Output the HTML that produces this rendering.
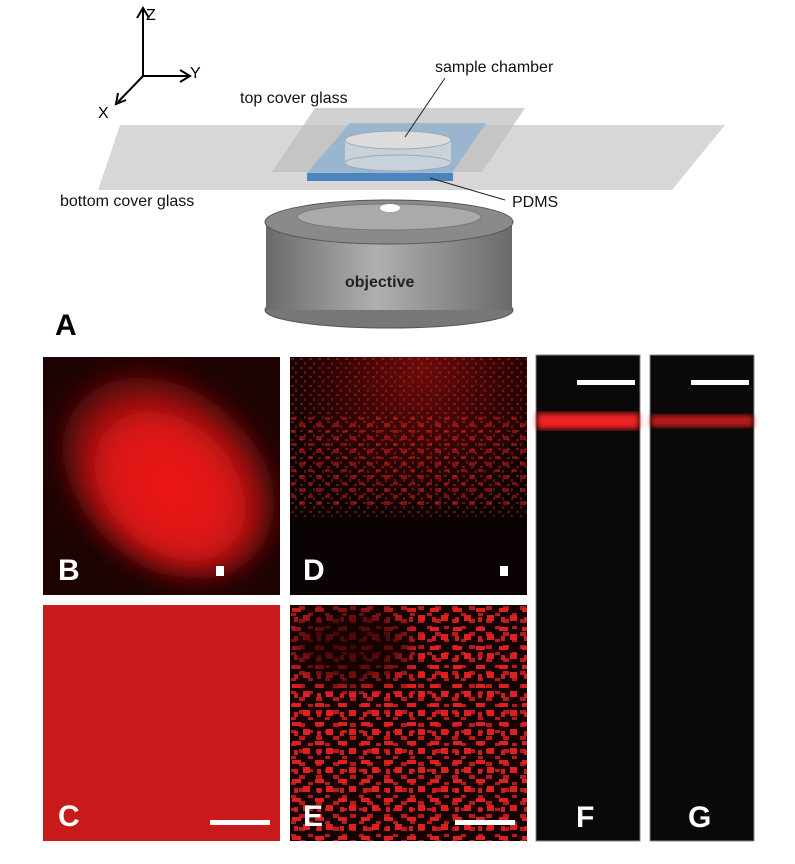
<!DOCTYPE html>
<html><head><style>body{margin:0;background:#fff}svg{display:block}</style></head><body>
<svg width="795" height="864" xmlns="http://www.w3.org/2000/svg" font-family="Liberation Sans, sans-serif">
<defs>
<linearGradient id="cyl" x1="0" x2="1"><stop offset="0" stop-color="#6a6a6a"/><stop offset="0.45" stop-color="#b0b0b0"/><stop offset="1" stop-color="#6a6a6a"/></linearGradient>
<radialGradient id="blob" cx="0.55" cy="0.55" r="0.55"><stop offset="0" stop-color="#f01818"/><stop offset="0.55" stop-color="#d81515"/><stop offset="1" stop-color="#300404"/></radialGradient>
<radialGradient id="dd" cx="0.55" cy="0.05" r="0.8"><stop offset="0" stop-color="#6a0c0c"/><stop offset="0.5" stop-color="#2a0404"/><stop offset="0.8" stop-color="#0a0202"/></radialGradient>
<pattern id="spk" width="9" height="9" patternUnits="userSpaceOnUse"><rect x="1" y="1" width="3" height="2" fill="#e02020"/><rect x="5" y="5" width="2" height="3" fill="#d01c1c"/></pattern>
<pattern id="spk2" width="23" height="19" patternUnits="userSpaceOnUse"><rect x="2" y="3" width="9" height="4" fill="#e82222"/><rect x="13" y="10" width="7" height="6" fill="#e82222"/><rect x="4" y="12" width="4" height="5" fill="#d41e1e"/></pattern>
<pattern id="spk3" width="17" height="13" patternUnits="userSpaceOnUse"><rect x="9" y="1" width="6" height="4" fill="#e02020"/><rect x="1" y="8" width="5" height="3" fill="#e02020"/></pattern>
<filter id="bl"><feGaussianBlur stdDeviation="3"/></filter>
<filter id="bl2"><feGaussianBlur stdDeviation="12"/></filter>
</defs>
<g stroke="#000" stroke-width="2" fill="none">
<path d="M143 76V10M137 18L143 8L149 18"/><path d="M143 76H188M180 70L190 76L180 82"/><path d="M143 76L118 102M118 93L116 104L126 100"/>
</g>
<text x="146" y="20" font-size="16">Z</text><text x="190" y="78" font-size="16">Y</text><text x="98" y="118" font-size="16">X</text>
<polygon points="120,125 725,125 672,190 98,190" fill="#d3d3d3" opacity="0.9"/>
<polygon points="315,108 525,108 482,172 272,172" fill="#bdbdbd" opacity="0.7"/>
<polygon points="350,123 486,123 452,173 307,173" fill="#8fb0d0" opacity="0.8"/>
<rect x="307" y="173" width="146" height="8" fill="#4d84bd"/>
<rect x="345" y="140" width="106" height="23" fill="#c9d2da"/>
<ellipse cx="398" cy="163" rx="53" ry="8" fill="#c9d2da" stroke="#9aaab8"/>
<ellipse cx="398" cy="140" rx="53" ry="9" fill="#dcdcdc" stroke="#9aaab8"/>
<line x1="405" y1="137" x2="445" y2="78" stroke="#222"/>
<line x1="430" y1="178" x2="505" y2="200" stroke="#222"/>
<ellipse cx="389" cy="310" rx="124" ry="18" fill="#777" stroke="#555"/>
<rect x="266" y="222" width="246" height="88" fill="url(#cyl)"/>
<ellipse cx="389" cy="222" rx="124" ry="22" fill="#8a8a8a" stroke="#555"/>
<ellipse cx="389" cy="217" rx="92" ry="13" fill="#aaa" stroke="#777"/>
<ellipse cx="390" cy="208" rx="10" ry="4" fill="#fff"/>
<g font-size="16" fill="#111">
<text x="435" y="72">sample chamber</text><text x="240" y="103">top cover glass</text>
<text x="60" y="206">bottom cover glass</text><text x="512" y="207">PDMS</text>
<text x="345" y="287" font-weight="bold" fill="#222">objective</text>
</g>
<text x="55" y="335" font-size="30" font-weight="bold">A</text>
<!-- B -->
<svg x="43" y="357" width="237" height="238">
<rect width="237" height="238" fill="#1e0303"/>
<ellipse cx="125" cy="115" rx="120" ry="90" transform="rotate(45 125 115)" fill="url(#blob)" filter="url(#bl2)"/>
</svg>
<!-- D -->
<svg x="290" y="357" width="237" height="238">
<rect width="237" height="238" fill="url(#dd)"/>
<rect width="237" height="160" fill="url(#spk)" opacity="0.45"/>
<rect y="60" width="237" height="90" fill="url(#spk3)" opacity="0.5"/>
</svg>
<rect x="43" y="605" width="237" height="236" fill="#c81a1a"/>
<!-- E -->
<svg x="290" y="605" width="237" height="236">
<rect width="237" height="236" fill="#160202"/>
<rect width="237" height="236" fill="url(#spk2)" opacity="0.95"/>
<rect width="237" height="236" fill="url(#spk3)" opacity="0.8"/>
<ellipse cx="60" cy="40" rx="60" ry="40" fill="#160202" opacity="0.7" filter="url(#bl2)"/>
</svg>
<rect x="536" y="355" width="104" height="486" fill="#0a0808" stroke="#888"/>
<rect x="650" y="355" width="104" height="486" fill="#0a0808" stroke="#888"/>
<rect x="537" y="413" width="102" height="16" fill="#f02020" filter="url(#bl)"/>
<rect x="651" y="415" width="102" height="12" fill="#d01c1c" opacity="0.9" filter="url(#bl)"/>
<g fill="#fff">
<rect x="216" y="566" width="8" height="10"/><rect x="500" y="566" width="8" height="10"/>
<rect x="210" y="820" width="60" height="5"/><rect x="455" y="820" width="60" height="5"/>
<rect x="577" y="380" width="58" height="5"/><rect x="691" y="380" width="58" height="5"/>
</g>
<g font-size="30" font-weight="bold" fill="#fff">
<text x="58" y="580">B</text><text x="303" y="580">D</text><text x="58" y="826">C</text><text x="303" y="826">E</text>
<text x="576" y="827">F</text><text x="688" y="827">G</text>
</g>
</svg>
</body></html>
